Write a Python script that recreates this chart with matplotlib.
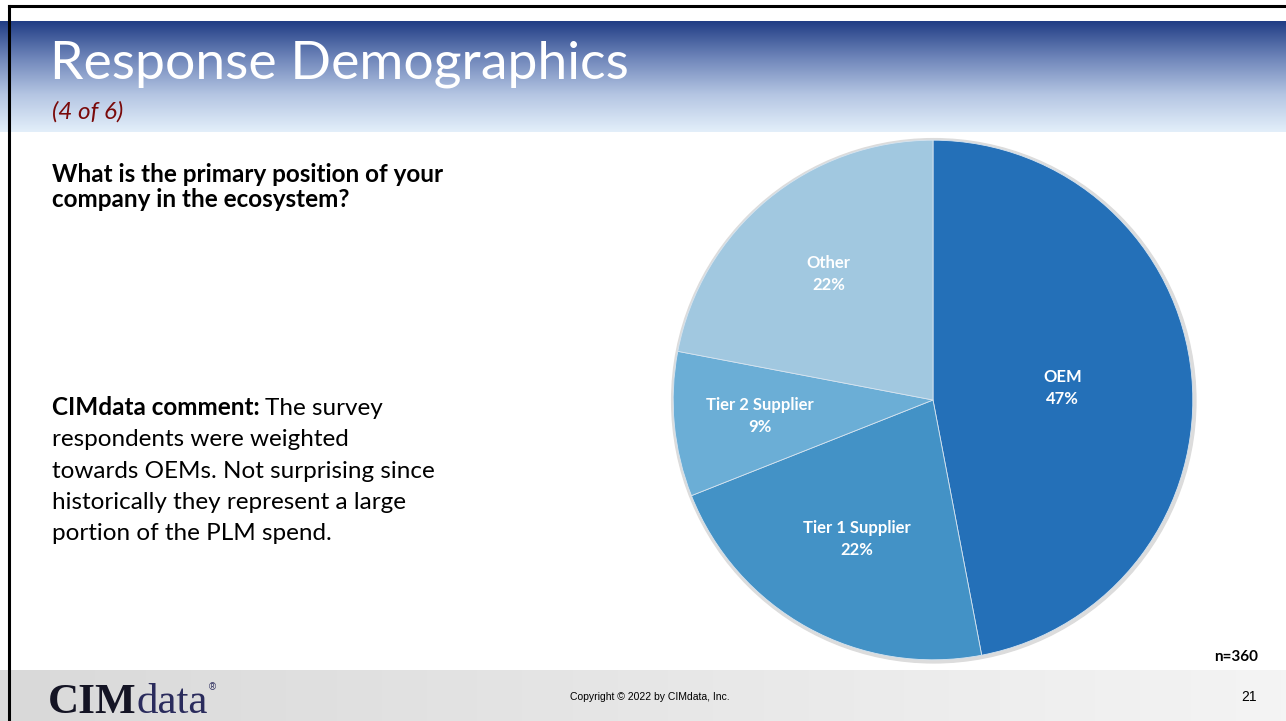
import matplotlib.pyplot as plt
import numpy as np
from matplotlib.colors import LinearSegmentedColormap
from matplotlib.patches import Circle

# data
categories = ["OEM", "Tier 1 Supplier", "Tier 2 Supplier", "Other"]
shares = [47, 22, 9, 22]
colors = ["#2470B8", "#4392C6", "#6BAED6", "#A1C8E0"]
label_radius = [0.50, 0.61, 0.67, 0.63]
n_resp = 360

W, H = 1286, 721
fig = plt.figure(figsize=(W / 100, H / 100), dpi=100)

# background axes in pixel coords (y down)
bg = fig.add_axes([0, 0, 1, 1])
bg.set_xlim(0, W)
bg.set_ylim(H, 0)
bg.axis("off")

# header gradient
hdr = LinearSegmentedColormap.from_list("hdr", ["#213D85", "#6F86BA", "#B5C6E3", "#E3EFFA"])
grad = np.linspace(0, 1, 256).reshape(-1, 1)
bg.imshow(grad, cmap=hdr, aspect="auto", extent=[0, W, 132, 21], zorder=1)

# footer gradient
ftr = LinearSegmentedColormap.from_list("ftr", ["#D9D9D9", "#F4F4F4"])
bg.imshow(grad.T, cmap=ftr, aspect="auto", extent=[0, W, H, 670], zorder=1)

# frame lines
bg.plot([9, W], [6, 6], color="black", lw=2.2, zorder=3)
bg.plot([9, 9], [6, H], color="black", lw=2.2, zorder=3)

# titles
bg.text(50, 79, "Response Demographics", fontsize=38.5, color="white",
        family="Lato", zorder=4)
bg.text(52, 119, "(4 of 6)", fontsize=17.5, color="#7A0A0A", family="Lato",
        style="italic", zorder=4)

bg.text(52, 187, "What is the primary position of your\ncompany in the ecosystem?",
        fontsize=17.5, fontweight="bold", family="Lato", va="center",
        linespacing=1.12, zorder=4)

# comment block
fig.canvas.draw()
r = fig.canvas.get_renderer()
t1 = bg.text(52, 415, "CIMdata comment:", fontsize=17.5, fontweight="bold",
             family="Lato", zorder=4)
ext = t1.get_window_extent(renderer=r)
bg.text(ext.x1 + 5, 415, "The survey", fontsize=17.5, family="Lato", zorder=4)
comment_lines = ["respondents were weighted",
                 "towards OEMs. Not surprising since",
                 "historically they represent a large",
                 "portion of the PLM spend."]
for i, line in enumerate(comment_lines):
    bg.text(52, 415 + 31.3 * (i + 1), line, fontsize=17.5, family="Lato", zorder=4)

# footer logo and texts
logo1 = bg.text(48, 713, "CIM", fontsize=31, family="Liberation Serif",
                fontweight="bold", color="#141424", zorder=4)
ext = logo1.get_window_extent(renderer=r)
logo2 = bg.text(ext.x1, 713, "data", fontsize=31, family="Liberation Serif",
                color="#2A2B5C", zorder=4)
ext2 = logo2.get_window_extent(renderer=r)
bg.text(ext2.x1 + 1, 690, "®", fontsize=7, family="Liberation Sans", color="#2A2B5C", zorder=4)
bg.text(650, 697, "Copyright © 2022 by CIMdata, Inc.", fontsize=7.5,
        family="Liberation Sans", ha="center", va="center", zorder=4)
bg.text(1257, 697, "21", fontsize=10, family="Liberation Sans", ha="right",
        va="center", zorder=4)
bg.text(1258, 657, f"n={n_resp}", fontsize=11, fontweight="bold", family="Lato",
        ha="right", va="center", zorder=4)

# pie
cx, cy, rad = 933, 400, 265
pax = fig.add_axes([(cx - rad) / W, (H - cy - rad) / H, 2 * rad / W, 2 * rad / H])
pax.set_aspect("equal")
pax.add_patch(Circle((0.003, -0.003), 1.009, color="#DCDCDC", zorder=0))
wedges, _ = pax.pie(shares, colors=colors, startangle=90, counterclock=False,
                    radius=1.0, wedgeprops=dict(edgecolor="#D6E4F0", linewidth=0.6))
for w, name, val, rr in zip(wedges, categories, shares, label_radius):
    ang = np.deg2rad((w.theta1 + w.theta2) / 2)
    pax.text(rr * np.cos(ang), rr * np.sin(ang), f"{name}\n{val}%", ha="center",
             va="center", color="white", fontsize=12, fontweight="bold",
             family="Lato", linespacing=1.45)
pax.set_xlim(-1.02, 1.02)
pax.set_ylim(-1.02, 1.02)

fig.savefig("out.png", dpi=100)
